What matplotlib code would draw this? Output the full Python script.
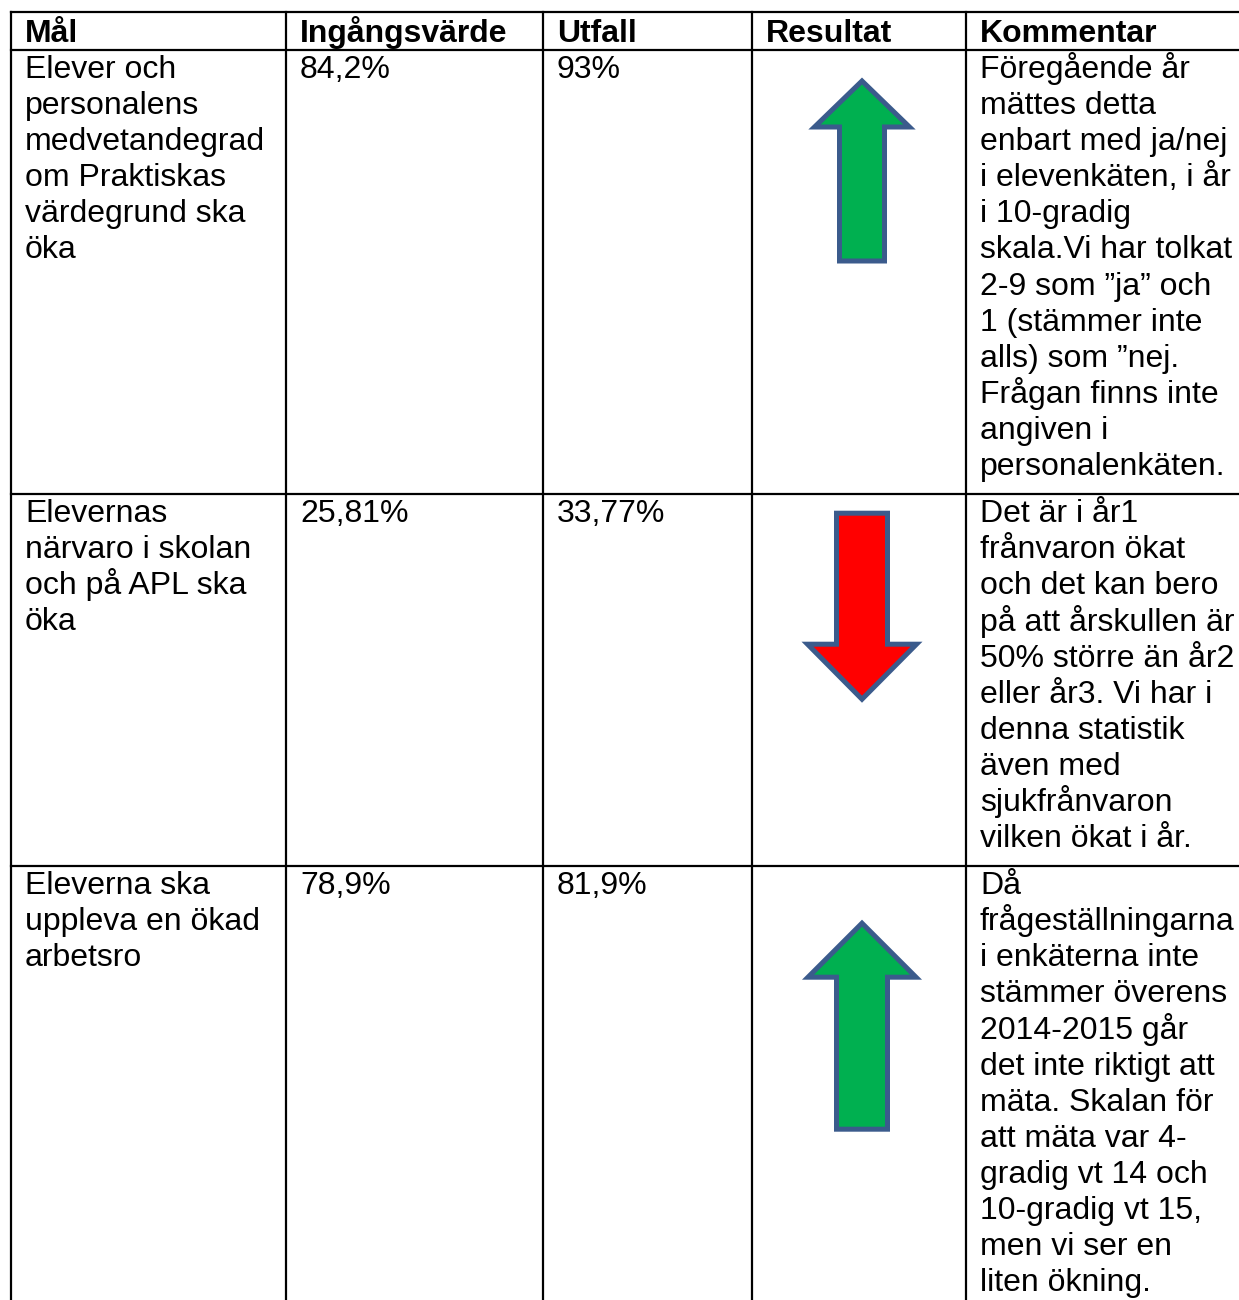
import matplotlib.pyplot as plt
from matplotlib.patches import Polygon

# Table content
headers = ['Mål', 'Ingångsvärde', 'Utfall', 'Resultat', 'Kommentar']

goals = [
    ['Elever och', 'personalens', 'medvetandegrad', 'om Praktiskas', 'värdegrund ska', 'öka'],
    ['Elevernas', 'närvaro i skolan', 'och på APL ska', 'öka'],
    ['Eleverna ska', 'uppleva en ökad', 'arbetsro'],
]
start_values = ['84,2%', '25,81%', '78,9%']
outcomes = ['93%', '33,77%', '81,9%']
results = ['up', 'down', 'up']
comments = [
    ['Föregående år', 'mättes detta', 'enbart med ja/nej', 'i elevenkäten, i år', 'i 10-gradig',
     'skala.Vi har tolkat', '2-9 som ”ja” och', '1 (stämmer inte', 'alls) som ”nej.',
     'Frågan finns inte', 'angiven i', 'personalenkäten.'],
    ['Det är i år1', 'frånvaron ökat', 'och det kan bero', 'på att årskullen är',
     '50% större än år2', 'eller år3. Vi har i', 'denna statistik', 'även med',
     'sjukfrånvaron', 'vilken ökat i år.'],
    ['Då', 'frågeställningarna', 'i enkäterna inte', 'stämmer överens', '2014-2015 går',
     'det inte riktigt att', 'mäta. Skalan för', 'att mäta var 4-', 'gradig vt 14 och',
     '10-gradig vt 15,', 'men vi ser en', 'liten ökning.'],
]

# Layout (pixels)
W, H = 1239, 1300
col_x = [11, 286, 543, 752, 966, 1260]
top_y = 12
header_bottom = 50
line_h = 36.1
row_pad = 11
pad_x = 14
base_off = 28
fs = 23
arrow_colors = {'up': '#00B050', 'down': '#FF0000'}
arrow_edge = '#3B5B8C'
# per row arrow: top offset from row top, length, head length, head width, shaft width
arrow_layout = [(28, 186, 48, 100, 50), (16, 192, 57, 114, 56), (54, 212, 56, 113, 56)]

fig = plt.figure(figsize=(W / 100, H / 100), dpi=100)
fig.patch.set_facecolor('white')
ax = fig.add_axes([0, 0, 1, 1])
ax.set_xlim(0, W)
ax.set_ylim(H, 0)
ax.axis('off')

font = ['Liberation Sans', 'DejaVu Sans']
lw = 1.6

# row boundaries
row_tops = []
y = header_bottom
for i in range(len(goals)):
    row_tops.append(y)
    n = max(len(goals[i]), len(comments[i]))
    y += n * line_h + row_pad
row_tops.append(y)

# horizontal lines
for yy in [top_y, header_bottom] + row_tops[1:]:
    ax.plot([col_x[0], col_x[-1]], [yy, yy], color='black', lw=lw, solid_capstyle='projecting')
# vertical lines
for xx in col_x:
    ax.plot([xx, xx], [top_y, row_tops[-1]], color='black', lw=lw, solid_capstyle='projecting')

# header
for j, h in enumerate(headers):
    ax.text(col_x[j] + pad_x, 42, h, fontsize=fs, fontweight='bold', family=font,
            ha='left', va='baseline')

def cell_lines(j, lines, top):
    for k, s in enumerate(lines):
        ax.text(col_x[j] + pad_x, top + base_off + k * line_h, s, fontsize=fs, family=font,
                ha='left', va='baseline')

for i in range(len(goals)):
    top = row_tops[i]
    cell_lines(0, goals[i], top)
    cell_lines(1, [start_values[i]], top)
    cell_lines(2, [outcomes[i]], top)
    cell_lines(4, comments[i], top)

    # arrow in Resultat column
    off, length, hl, hw, sw = arrow_layout[i]
    cx = (col_x[3] + col_x[4]) / 2 + 3
    a0 = top + off + 3
    a1 = top + off + length - 3
    hw -= 5
    sw -= 5
    hl -= 2
    if results[i] == 'up':
        pts = [(cx, a0), (cx + hw / 2, a0 + hl), (cx + sw / 2, a0 + hl), (cx + sw / 2, a1),
               (cx - sw / 2, a1), (cx - sw / 2, a0 + hl), (cx - hw / 2, a0 + hl)]
    else:
        pts = [(cx, a1), (cx + hw / 2, a1 - hl), (cx + sw / 2, a1 - hl), (cx + sw / 2, a0),
               (cx - sw / 2, a0), (cx - sw / 2, a1 - hl), (cx - hw / 2, a1 - hl)]
    ax.add_patch(Polygon(pts, closed=True, fc=arrow_colors[results[i]], ec=arrow_edge,
                         lw=3.6, joinstyle='miter'))

plt.savefig('out.png', dpi=100)
plt.close()
